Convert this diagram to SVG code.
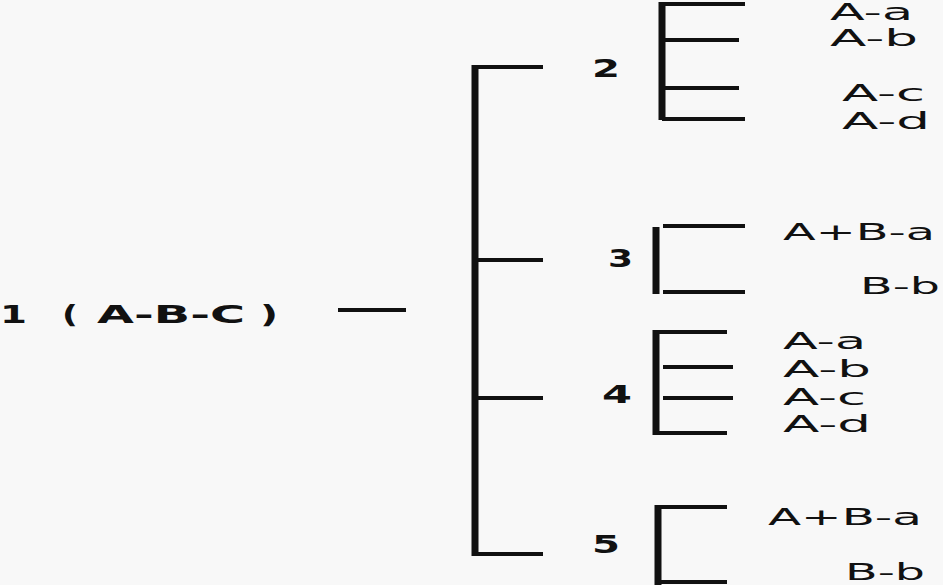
<svg xmlns="http://www.w3.org/2000/svg" width="943" height="585" viewBox="0 0 943 585">
<style>
.ln{stroke:#111;fill:none;stroke-linecap:butt}
.v{stroke-width:7}
.h{stroke-width:4}
.t{font-family:"DejaVu Sans","Liberation Sans",sans-serif;font-size:23px;fill:#111}
.n{font-family:"DejaVu Sans","Liberation Sans",sans-serif;font-size:25px;font-weight:bold;fill:#111}
</style>
<rect width="943" height="585" fill="#f8f8f8"/>
<g id="node1">
<text class="n" x="0" y="323" textLength="27" lengthAdjust="spacingAndGlyphs">1</text>
<text class="n" x="62" y="323" textLength="16" lengthAdjust="spacingAndGlyphs">(</text>
<text class="n" x="97" y="323" textLength="148" lengthAdjust="spacingAndGlyphs">A-B-C</text>
<text class="n" x="260" y="323" textLength="18" lengthAdjust="spacingAndGlyphs">)</text>
</g>
<g id="connectors">
<line class="ln h" x1="338" y1="310" x2="406" y2="310"/>
<line class="ln v" x1="475" y1="65" x2="475" y2="556"/>
<line class="ln h" x1="475" y1="67" x2="543" y2="67"/>
<line class="ln h" x1="475" y1="260" x2="543" y2="260"/>
<line class="ln h" x1="475" y1="398" x2="543" y2="398"/>
<line class="ln h" x1="475" y1="554" x2="543" y2="554"/>
</g>
<g id="node2">
<text class="n" x="592" y="77" textLength="28" lengthAdjust="spacingAndGlyphs">2</text>
<line class="ln v" x1="662" y1="2" x2="662" y2="120"/>
<line class="ln h" x1="662" y1="4" x2="745" y2="4"/>
<line class="ln h" x1="662" y1="40" x2="739" y2="40"/>
<line class="ln h" x1="662" y1="88" x2="739" y2="88"/>
<line class="ln h" x1="662" y1="119" x2="745" y2="119"/>
<text class="t" x="830" y="20" textLength="83" lengthAdjust="spacingAndGlyphs">A-a</text>
<text class="t" x="830" y="46" textLength="88" lengthAdjust="spacingAndGlyphs">A-b</text>
<text class="t" x="842" y="101" textLength="83" lengthAdjust="spacingAndGlyphs">A-c</text>
<text class="t" x="842" y="129" textLength="88" lengthAdjust="spacingAndGlyphs">A-d</text>
</g>
<g id="node3">
<text class="n" x="608" y="267" textLength="25" lengthAdjust="spacingAndGlyphs">3</text>
<line class="ln v" x1="656" y1="227" x2="656" y2="294"/>
<line class="ln h" x1="663" y1="226" x2="745" y2="226"/>
<line class="ln h" x1="663" y1="292" x2="745" y2="292"/>
<text class="t" x="783" y="240" textLength="152" lengthAdjust="spacingAndGlyphs">A+B-a</text>
<text class="t" x="860" y="294" textLength="80" lengthAdjust="spacingAndGlyphs">B-b</text>
</g>
<g id="node4">
<text class="n" x="602" y="403" textLength="30" lengthAdjust="spacingAndGlyphs">4</text>
<line class="ln v" x1="656" y1="330" x2="656" y2="435"/>
<line class="ln h" x1="656" y1="332" x2="727" y2="332"/>
<line class="ln h" x1="663" y1="367" x2="733" y2="367"/>
<line class="ln h" x1="663" y1="398" x2="733" y2="398"/>
<line class="ln h" x1="656" y1="433" x2="727" y2="433"/>
<text class="t" x="783" y="349" textLength="83" lengthAdjust="spacingAndGlyphs">A-a</text>
<text class="t" x="783" y="377" textLength="88" lengthAdjust="spacingAndGlyphs">A-b</text>
<text class="t" x="783" y="405" textLength="83" lengthAdjust="spacingAndGlyphs">A-c</text>
<text class="t" x="783" y="432" textLength="88" lengthAdjust="spacingAndGlyphs">A-d</text>
</g>
<g id="node5">
<text class="n" x="592" y="553" textLength="28" lengthAdjust="spacingAndGlyphs">5</text>
<line class="ln v" x1="658" y1="505" x2="658" y2="585"/>
<line class="ln h" x1="658" y1="507" x2="727" y2="507"/>
<line class="ln h" x1="658" y1="582" x2="727" y2="582"/>
<text class="t" x="768" y="525" textLength="154" lengthAdjust="spacingAndGlyphs">A+B-a</text>
<text class="t" x="845" y="580" textLength="80" lengthAdjust="spacingAndGlyphs">B-b</text>
</g>
</svg>
